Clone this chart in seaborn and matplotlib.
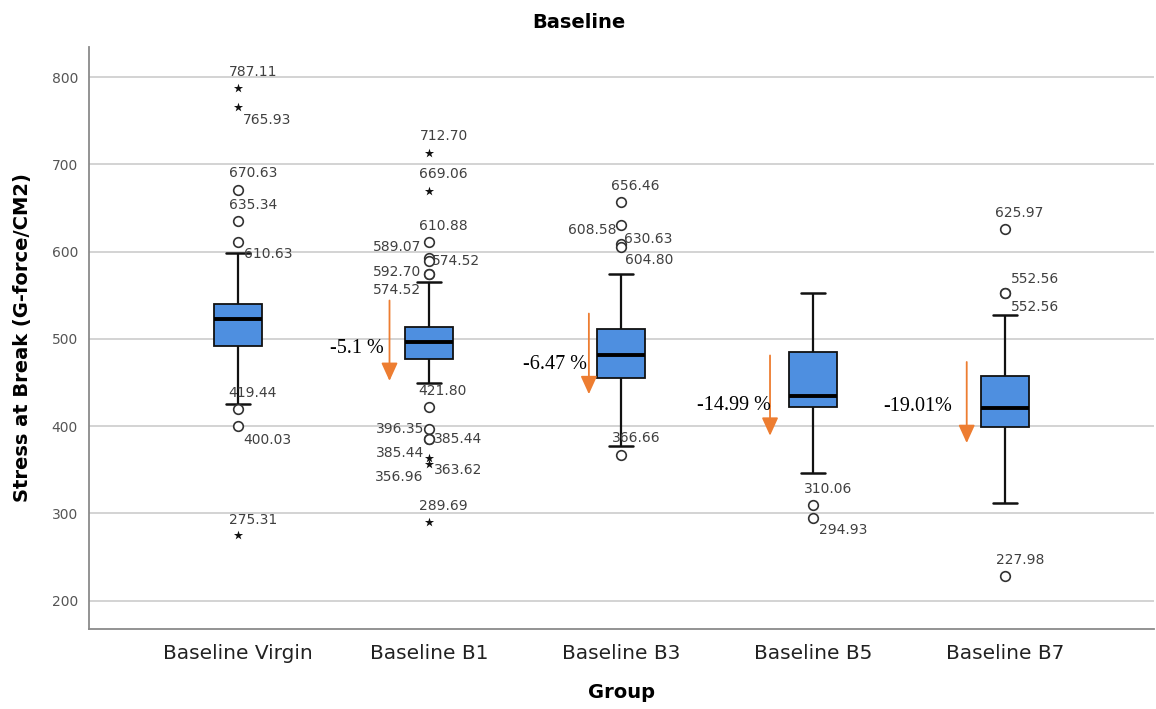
import numpy as np
import pandas as pd
import matplotlib
matplotlib.use("Agg")
import matplotlib.pyplot as plt
import seaborn as sns

# ---------------- data ----------------
groups = ["Baseline Virgin", "Baseline B1", "Baseline B3", "Baseline B5", "Baseline B7"]
whisker_low = [425.1, 449.1, 376.8, 345.9, 311.7]
q1 = [491.4, 477.4, 454.9, 422.1, 398.5]
median = [522.3, 496.3, 481.1, 434.6, 420.6]
q3 = [539.4, 513.9, 511.7, 485.4, 457.5]
whisker_high = [598.9, 564.9, 574.9, 553.0, 526.9]

# outliers: group index, value, kind ('o' = outlier, '*' = extreme)
outlier_group = [0, 0, 0, 0, 0, 0, 0, 0,
                 1, 1, 1, 1, 1, 1, 1, 1, 1, 1, 1, 1, 1, 1,
                 2, 2, 2, 2, 2,
                 3, 3,
                 4, 4, 4, 4]
outlier_value = [787.11, 765.93, 670.63, 635.34, 610.63, 419.44, 400.03, 275.31,
                 712.70, 669.06, 610.88, 592.70, 589.07, 574.52, 574.52, 421.80,
                 396.35, 385.44, 385.44, 363.62, 356.96, 289.69,
                 656.46, 630.63, 608.58, 604.80, 366.66,
                 310.06, 294.93,
                 625.97, 552.56, 552.56, 227.98]
outlier_kind = ['*', '*', 'o', 'o', 'o', 'o', 'o', '*',
                '*', '*', 'o', 'o', 'o', 'o', 'o', 'o', 'o', 'o', 'o', '*', '*', '*',
                'o', 'o', 'o', 'o', 'o',
                'o', 'o',
                'o', 'o', 'o', 'o']

# label placement for each outlier label (pixel offsets, alignment)
label_dx = [-9, 5, -9, -9, 6, -9, 6, -9,
            -10, -10, -10, -8, -8, 3, -8, -11, -5, 5, -5, 5, -6, -10,
            -10, 3, -5, 4, -9,
            -9, 6,
            -10, 6, 6, -9]
label_dy = [16, -13, 17, 16, -12, 16, -14, 15,
            17, 17, 16, -14, 14, 13, -16, 16, 0, 0, -14, -12, -13, 16,
            16, -14, 14, -13, 17,
            16, -12,
            16, 14, -14, 16]
label_ha = ['left', 'left', 'left', 'left', 'left', 'left', 'left', 'left',
            'left', 'left', 'left', 'right', 'right', 'left', 'right', 'left',
            'right', 'left', 'right', 'left', 'right', 'left',
            'left', 'left', 'right', 'left', 'left',
            'left', 'left',
            'left', 'left', 'left', 'left']

# percentage-change annotations (groups B1..B7)
pct_group = [1, 2, 3, 4]
pct_text = ["-5.1 %", "-6.47 %", "-14.99 %", "-19.01%"]
arrow_top = [544.0, 529.0, 481.0, 473.5]
arrow_tip = [451.8, 436.6, 389.0, 380.6]
arrow_dx = [-0.208, -0.169, -0.225, -0.200]
pct_label_y = [489.0, 470.9, 424.0, 422.9]
pct_label_dx = [-0.240, -0.181, -0.223, -0.277]

# ---------------- plotting ----------------
sns.set_style("white")
plt.rcParams['font.family'] = ['DejaVu Sans']
plt.rcParams['text.color'] = 'black'
plt.rcParams['axes.labelcolor'] = 'black'

fig = plt.figure(figsize=(11.56, 7.09), dpi=100)
ax = fig.add_axes([89 / 1156, (709 - 629) / 709, (1154 - 89) / 1156, (629 - 47) / 709])

rows = []
for g, lo, a, m, b, hi in zip(groups, whisker_low, q1, median, q3, whisker_high):
    for v in (lo, a, m, b, hi):
        rows.append({"Group": g, "Stress": v})
df = pd.DataFrame(rows)

box_color = "#4E8FE0"
sns.boxplot(data=df, x="Group", y="Stress", order=groups, ax=ax,
            whis=(0, 100), showfliers=False, width=0.25, saturation=1,
            color=box_color, linecolor="#111111", linewidth=1.3,
            medianprops={"linewidth": 2.8, "color": "black"},
            capprops={"linewidth": 1.8},
            whiskerprops={"linewidth": 1.6},
            zorder=3)

ox = np.array(outlier_group, dtype=float)
ov = np.array(outlier_value)
okind = np.array(outlier_kind)
m_o = okind == 'o'
m_s = okind == '*'
ax.scatter(ox[m_o], ov[m_o], s=48, marker='o', facecolors='white',
           edgecolors='#333333', linewidths=1.2, zorder=4)
ax.scatter(ox[m_s], ov[m_s], s=48, marker='*', color='#111111',
           linewidths=0, zorder=4)

for g, v, dx, dy, ha in zip(outlier_group, outlier_value, label_dx, label_dy, label_ha):
    ax.annotate(f"{v:.2f}", xy=(g, v), xytext=(dx, dy), textcoords='offset pixels',
                ha=ha, va='center', fontsize=10, color='#404040', zorder=5)

orange = "#ED7D31"
for g, t, top, tip, adx, ly, ldx in zip(pct_group, pct_text, arrow_top, arrow_tip,
                                         arrow_dx, pct_label_y, pct_label_dx):
    ax.annotate("", xy=(g + adx, tip), xytext=(g + adx, top),
                arrowprops=dict(arrowstyle="-|>,head_length=1.1,head_width=0.5",
                                color=orange, lw=1.3, shrinkA=0, shrinkB=0,
                                mutation_scale=10), zorder=5)
    ax.text(g + ldx, ly, t, ha='right', va='center', fontsize=14.5,
            family='Liberation Serif', color='black', zorder=5)

ax.set_xlim(-0.774, 4.776)
ax.set_ylim(167.5, 834.5)
ax.set_yticks([200, 300, 400, 500, 600, 700, 800])
ax.yaxis.grid(True, color='#d0d0d0', linewidth=1.3)
ax.xaxis.grid(False)
ax.set_axisbelow(True)

for s in ('top', 'right'):
    ax.spines[s].set_visible(False)
for s in ('left', 'bottom'):
    ax.spines[s].set_color('#8a8a8a')
    ax.spines[s].set_linewidth(1.3)

ax.tick_params(axis='y', length=0, pad=8, labelsize=10, labelcolor='#555555')
ax.tick_params(axis='x', length=0, pad=11, labelsize=14.5, labelcolor='#222222')

ax.set_xlabel("Group", fontsize=14, fontweight='bold', va='center')
ax.xaxis.set_label_coords(0.5, (629 - 692) / 582)
ax.set_ylabel("Stress at Break (G-force/CM2)", fontsize=14, fontweight='bold', va='center')
ax.yaxis.set_label_coords((23 - 89) / 1065, 0.5)

fig.text(0.501, 1 - 22 / 709, "Baseline", ha='center', va='center',
         fontsize=14, fontweight='bold')

fig.savefig("out.png", dpi=100)
